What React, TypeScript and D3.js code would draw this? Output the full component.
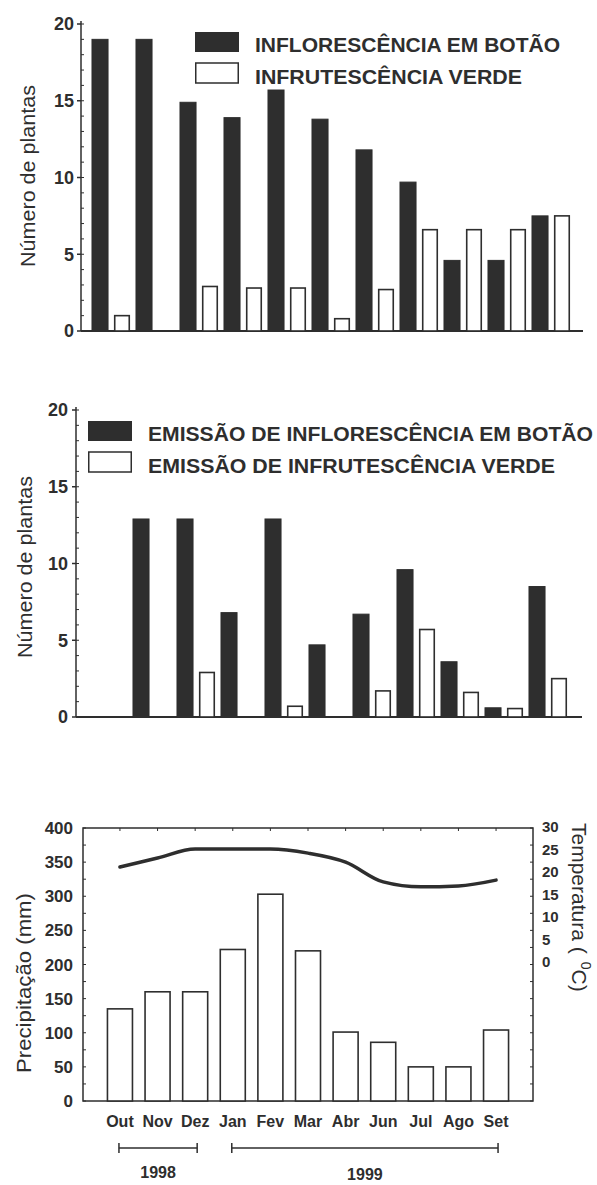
import React from 'react';
import * as d3 from 'd3';

const months = ['Out', 'Nov', 'Dez', 'Jan', 'Fev', 'Mar', 'Abr', 'Jun', 'Jul', 'Ago', 'Set'];

// painel 1: número de plantas
const topBud = [19, 19, 14.9, 13.9, 15.7, 13.8, 11.8, 9.7, 4.6, 4.6, 7.5];
const topFruit = [1, 0, 2.9, 2.8, 2.8, 0.8, 2.7, 6.6, 6.6, 6.6, 7.5];
const topLegend = ['INFLORESCÊNCIA EM BOTÃO', 'INFRUTESCÊNCIA VERDE'];

// painel 2: emissão
const midBud = [0, 12.9, 12.9, 6.8, 12.9, 4.7, 6.7, 9.6, 3.6, 0.6, 8.5];
const midFruit = [0, 0, 2.9, 0, 0.7, 0, 1.7, 5.7, 1.6, 0.55, 2.5];
const midLegend = ['EMISSÃO DE INFLORESCÊNCIA EM BOTÃO', 'EMISSÃO DE INFRUTESCÊNCIA VERDE'];

// painel 3: clima
const rain = [135, 160, 160, 222, 303, 220, 101, 86, 50, 50, 104];
const temp = [21.1, 23.1, 25.1, 25.1, 25.1, 24.2, 22.2, 17.8, 16.7, 16.9, 18.2];
const rainTicks = [0, 50, 100, 150, 200, 250, 300, 350, 400];
const tempTicks = [0, 5, 10, 15, 20, 25, 30];
const years = [
  { label: '1998', from: 'Out', to: 'Dez' },
  { label: '1999', from: 'Jan', to: 'Set' },
];

const font = '"Liberation Sans", Arial, sans-serif';
const ink = '#2e2e2e';

type PanelProps = {
  bud: number[];
  fruit: number[];
  legend: string[];
  axisX: number;
  y0: number;
  y20: number;
  xRange: [number, number];
  axisEnd: number;
  labelX: number;
  labelY: number;
  tickEnd: number;
  legendX: number;
  legendY: number;
  textX: number;
  textLens: number[];
};

const BarPanel = (p: PanelProps) => {
  const y = d3.scaleLinear().domain([0, 20]).range([p.y0, p.y20]);
  const x = d3.scaleBand().domain(months).range(p.xRange).paddingInner(0.136).paddingOuter(0.068);
  const sub = d3.scaleBand().domain(['bud', 'fruit']).range([0, x.bandwidth()]).paddingInner(0.27);

  return (
    <g>
      {/* eixo y */}
      <line x1={p.axisX} x2={p.axisX} y1={p.y20 - 3} y2={p.y0} stroke={ink} strokeWidth={1.5} />
      {y.ticks(20).map((t) => (
        <line key={'m' + t} x1={p.axisX} x2={p.axisX + 3} y1={y(t)} y2={y(t)} stroke={ink} strokeWidth={1} />
      ))}
      {y.ticks(4).map((t) => (
        <g key={t}>
          <line x1={p.axisX - 4} x2={p.axisX} y1={y(t)} y2={y(t)} stroke={ink} strokeWidth={1.5} />
          <text x={p.tickEnd} y={y(t)} dy="0.36em" textAnchor="end" fontSize={18} fontWeight="bold" fill={ink}>
            {t}
          </text>
        </g>
      ))}
      <line x1={p.axisX} x2={p.axisEnd} y1={p.y0} y2={p.y0} stroke={ink} strokeWidth={1.8} />
      <text
        transform={`translate(${p.labelX},${p.labelY}) rotate(-90)`}
        textAnchor="middle"
        fontSize={20}
        fill={ink}
        textLength={182}
        lengthAdjust="spacingAndGlyphs"
      >
        Número de plantas
      </text>

      {/* barras */}
      {months.map((m, i) => (
        <g key={m} transform={`translate(${x(m)},0)`}>
          <rect
            x={sub('bud')}
            width={sub.bandwidth()}
            y={y(p.bud[i])}
            height={p.y0 - y(p.bud[i])}
            fill={ink}
            stroke={ink}
            strokeWidth={1}
          />
          <rect
            x={sub('fruit')! + 0.75}
            width={sub.bandwidth() - 1.5}
            y={y(p.fruit[i])}
            height={p.y0 - y(p.fruit[i])}
            fill="#fff"
            stroke={ink}
            strokeWidth={1.6}
          />
        </g>
      ))}

      {/* legenda */}
      <rect x={p.legendX} y={p.legendY} width={44} height={20} fill={ink} />
      <rect x={p.legendX + 0.75} y={p.legendY + 31} width={42.5} height={20} fill="#fff" stroke={ink} strokeWidth={1.5} />
      {p.legend.map((s, i) => (
        <text
          key={s}
          x={p.textX}
          y={p.legendY + 20 + i * 32}
          fontSize={20}
          fontWeight="bold"
          fill={ink}
          textLength={p.textLens[i]}
          lengthAdjust="spacingAndGlyphs"
        >
          {s}
        </text>
      ))}
    </g>
  );
};

const ClimatePanel = () => {
  const left = 83;
  const right = 533;
  const top = 828;
  const bottom = 1101;
  const y = d3.scaleLinear().domain([0, 400]).range([bottom, top]);
  const yT = d3.scaleLinear().domain([0, 30]).range([962, 827]);
  const x = d3.scaleBand().domain(months).range([left, right]).paddingInner(0.335).paddingOuter(0.65);
  const cx = (m: string) => x(m)! + x.bandwidth() / 2;
  const line = d3
    .line<number>()
    .x((_, i) => cx(months[i]))
    .y((d) => yT(d))
    .curve(d3.curveMonotoneX);

  return (
    <g>
      <rect x={left} y={top} width={right - left} height={bottom - top} fill="none" stroke={ink} strokeWidth={1.5} />
      {d3.range(0, 401, 25).map((t) => (
        <g key={'r' + t}>
          <line x1={left} x2={left + 3} y1={y(t)} y2={y(t)} stroke={ink} />
          <line x1={right - 3} x2={right} y1={y(t)} y2={y(t)} stroke={ink} />
        </g>
      ))}
      {months.map((m) => (
        <g key={'t' + m}>
          <line x1={cx(m)} x2={cx(m)} y1={top} y2={top + 3} stroke={ink} />
          <line x1={cx(m)} x2={cx(m)} y1={bottom - 3} y2={bottom} stroke={ink} />
        </g>
      ))}
      {rainTicks.map((t) => (
        <text key={t} x={73} y={y(t)} dy="0.36em" textAnchor="end" fontSize={17} fontWeight="bold" fill={ink}>
          {t}
        </text>
      ))}
      {tempTicks.map((t) => (
        <text key={'c' + t} x={542} y={yT(t)} dy="0.36em" fontSize={15} fontWeight="bold" fill={ink}>
          {t}
        </text>
      ))}

      {months.map((m, i) => (
        <rect
          key={m}
          x={x(m)}
          width={x.bandwidth()}
          y={y(rain[i])}
          height={bottom - y(rain[i])}
          fill="#fff"
          stroke={ink}
          strokeWidth={1.6}
        />
      ))}
      <path d={line(temp) || ''} fill="none" stroke={ink} strokeWidth={3.5} strokeLinecap="round" />

      {months.map((m) => (
        <text key={'l' + m} x={cx(m)} y={1127} textAnchor="middle" fontSize={16} fontWeight="bold" fill={ink}>
          {m}
        </text>
      ))}

      {years.map((yr, i) => {
        const x1 = cx(yr.from) - 1;
        const x2 = cx(yr.to) + 2;
        return (
          <g key={yr.label}>
            <line x1={x1} x2={x2} y1={1148} y2={1148} stroke={ink} strokeWidth={1.3} />
            <line x1={x1} x2={x1} y1={1143} y2={1153} stroke={ink} strokeWidth={1.5} />
            <line x1={x2} x2={x2} y1={1143} y2={1153} stroke={ink} strokeWidth={1.5} />
            <text x={(x1 + x2) / 2} y={1178 + i * 2} textAnchor="middle" fontSize={16} fontWeight="bold" fill={ink}>
              {yr.label}
            </text>
          </g>
        );
      })}

      <text
        transform="translate(31,983) rotate(-90)"
        textAnchor="middle"
        fontSize={20}
        fill={ink}
        textLength={180}
        lengthAdjust="spacingAndGlyphs"
      >
        Precipitação (mm)
      </text>
      <text transform="translate(572,823) rotate(90)" fontSize={21} fill={ink}>
        Temperatura (
        <tspan dx={8} dy={-9} fontSize={14}>
          0
        </tspan>
        <tspan dy={9}>C)</tspan>
      </text>
    </g>
  );
};

const App = () => {
  const width = 597;
  const height = 1185;
  return (
    <svg
      width={width}
      height={height}
      style={{ position: 'absolute', left: 0, top: 0, background: '#fff', fontFamily: font }}
    >
      <BarPanel
        bud={topBud}
        fruit={topFruit}
        legend={topLegend}
        axisX={81}
        y0={331}
        y20={24}
        xRange={[89, 573]}
        axisEnd={583}
        labelX={35}
        labelY={176}
        tickEnd={74}
        legendX={195}
        legendY={32}
        textX={255}
        textLens={[305, 267]}
      />
      <BarPanel
        bud={midBud}
        fruit={midFruit}
        legend={midLegend}
        axisX={76}
        y0={717}
        y20={410}
        xRange={[86, 570]}
        axisEnd={582}
        labelX={32}
        labelY={567}
        tickEnd={68}
        legendX={88}
        legendY={421}
        textX={148}
        textLens={[445, 407]}
      />
      <ClimatePanel />
    </svg>
  );
};

export default App;
